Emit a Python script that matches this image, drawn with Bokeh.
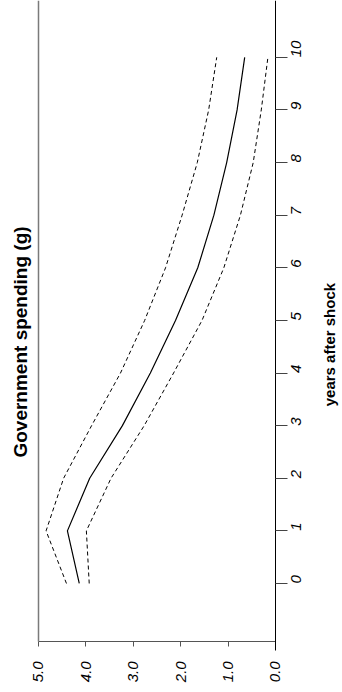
import math
from bokeh.plotting import figure
from bokeh.models import Range1d, LinearAxis, FixedTicker, Label
from bokeh.embed import file_html
from bokeh.resources import INLINE

years = [0, 1, 2, 3, 4, 5, 6, 7, 8, 9, 10]
response = [4.14, 4.39, 3.92, 3.23, 2.64, 2.11, 1.64, 1.30, 1.03, 0.81, 0.65]
upper_band = [4.41, 4.84, 4.47, 3.88, 3.27, 2.76, 2.32, 1.97, 1.65, 1.41, 1.24]
lower_band = [3.93, 3.99, 3.47, 2.77, 2.15, 1.55, 1.09, 0.74, 0.47, 0.30, 0.16]

value_ticks = [5, 4, 3, 2, 1, 0]
value_labels = {5: "5.0", 4: "4.0", 3: "3.0", 2: "2.0", 1: "1.0", 0: "0.0"}
year_ticks = [0, 1, 2, 3, 4, 5, 6, 7, 8, 9, 10]

title_text = "Government spending (g)"
x_title = "years after shock"

# the whole chart is drawn rotated: values run right-to-left, years bottom-to-top
p = figure(width=342, height=692, output_backend="svg", toolbar_location=None,
           x_range=Range1d(5.8017, -1.4135), y_range=Range1d(-2.072, 11.08),
           x_axis_location=None, y_axis_location=None,
           min_border_left=0, min_border_right=0, min_border_top=0,
           min_border_bottom=0)
p.outline_line_color = None
p.grid.visible = False
p.background_fill_color = "white"
p.border_fill_color = "white"
p.title.visible = False

# curves
p.line(response, years, line_color="black", line_width=1.2)
p.line(upper_band, years, line_color="black", line_width=1, line_dash="4 3")
p.line(lower_band, years, line_color="black", line_width=1, line_dash="4 3")

# value axis
bx = LinearAxis(ticker=FixedTicker(ticks=value_ticks), fixed_location=-1.10,
                bounds=(0, 5))
bx.major_label_overrides = value_labels
bx.major_label_orientation = math.pi / 2
bx.major_label_text_font = "Liberation Sans"
bx.major_label_text_font_style = "italic"
bx.major_label_text_font_size = "15px"
bx.major_label_text_color = "black"
bx.major_label_standoff = 15
bx.axis_line_color = "#555555"
bx.major_tick_line_color = "#555555"
bx.major_tick_out = 5
bx.major_tick_in = 0
bx.minor_tick_line_color = None
p.add_layout(bx, "below")

# years axis
ry = LinearAxis(ticker=FixedTicker(ticks=year_ticks), fixed_location=0,
                bounds=(-1.27, 11.08))
ry.major_label_orientation = math.pi / 2
ry.major_label_text_font = "Liberation Sans"
ry.major_label_text_font_style = "italic"
ry.major_label_text_font_size = "15px"
ry.major_label_text_color = "black"
ry.major_label_standoff = 9
ry.axis_line_color = "black"
ry.major_tick_line_color = "#444444"
ry.major_tick_out = 12
ry.major_tick_in = 0
ry.minor_tick_line_color = None
p.add_layout(ry, "right")

# left frame line
ly = LinearAxis(ticker=FixedTicker(ticks=[]), fixed_location=5,
                bounds=(-1.10, 11.08))
ly.major_label_text_font_size = "0px"
ly.major_tick_line_color = None
ly.minor_tick_line_color = None
ly.major_tick_out = 0
ly.axis_line_color = "#7a7a7a"
ly.axis_line_width = 1.5
p.add_layout(ly, "left")

# title and axis title, rotated like the rest of the chart
p.add_layout(Label(x=5.38, y=4.59, text=title_text, angle=math.pi / 2,
                   text_align="center", text_baseline="middle",
                   text_font="Liberation Sans", text_font_style="bold",
                   text_font_size="19px", text_color="black"))
p.add_layout(Label(x=-1.14, y=4.54, text=x_title, angle=math.pi / 2,
                   text_align="center", text_baseline="middle",
                   text_font="Liberation Sans", text_font_style="bold",
                   text_font_size="15px", text_color="black"))

open("out.html", "w").write(file_html(p, INLINE))
